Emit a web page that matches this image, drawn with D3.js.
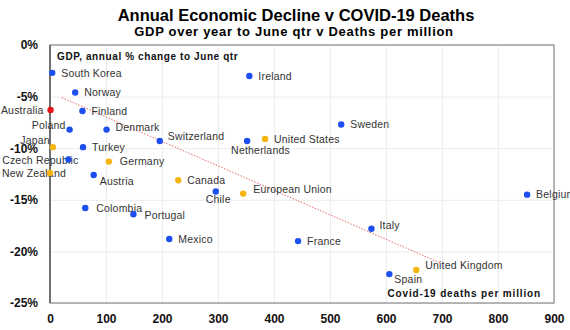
<!DOCTYPE html>
<meta charset="utf-8">
<script src="https://d3js.org/d3.v7.min.js"></script>
<style>
  body { margin: 0; background: #fff; }
  text { font-family: "Liberation Sans", Arial, sans-serif; }
</style>
<div id="chart"></div>
<script>
// deaths per million (x), GDP annual % change (y), group
var countries = ["South Korea", "Ireland", "Norway", "Australia", "Finland", "Poland", "Denmark",
  "Sweden", "Switzerland", "Netherlands", "United States", "Japan", "Turkey", "Czech Republic",
  "Germany", "New Zealand", "Austria", "Canada", "Chile", "European Union", "Belgium",
  "Colombia", "Portugal", "Italy", "Mexico", "France", "United Kingdom", "Spain"];
var deaths = [4, 356, 45, 1, 58, 35, 101, 520, 196, 352, 384, 5, 59, 33,
  105, 0, 78, 229, 296, 345, 852, 63, 149, 574, 213, 443, 654, 606];
var gdp = [-2.7, -3.0, -4.6, -6.3, -6.4, -8.2, -8.2, -7.7, -9.3, -9.3, -9.1, -9.9, -9.9, -11.1,
  -11.3, -12.4, -12.6, -13.1, -14.2, -14.4, -14.5, -15.8, -16.4, -17.8, -18.8, -19.0, -21.8, -22.2];
var group = ["b", "b", "b", "r", "b", "b", "b", "b", "b", "b", "y", "y", "b", "b",
  "y", "y", "b", "y", "b", "y", "b", "b", "b", "b", "b", "b", "y", "b"];

var xTicks = [0, 100, 200, 300, 400, 500, 600, 700, 800, 900];
var yTicks = [0, -5, -10, -15, -20, -25];

// fitted trend: two end points [deaths, gdp]
var trendLine = [[21, -5.1], [696, -21.1]];

var colours = { b: "#1c4ef0", y: "#f5b50f", r: "#e8141a" };

// label placement [dx, dy, anchor] relative to the dot
var labelPos = {
  "Australia": [-7, 0, "end"], "Japan": [-3, -7, "end"], "Poland": [-4, -4, "end"],
  "Czech Republic": [10, 1, "end"], "New Zealand": [16, 0, "end"],
  "Netherlands": [-16, 9, "start"], "Austria": [6, 6, "start"], "Chile": [-10, 8, "start"],
  "European Union": [10, -4, "start"], "Portugal": [11, 1, "start"], "Spain": [5, 5, "start"],
  "United Kingdom": [9, -5, "start"], "Italy": [8, -3, "start"], "Switzerland": [8, -5, "start"],
  "Denmark": [9, -2, "start"], "Colombia": [11, 0, "start"], "Germany": [11, 0, "start"]
};

var width = 570, height = 330;
var margin = { top: 45, right: 16, bottom: 27, left: 50 };

var svg = d3.select("#chart").append("svg")
  .attr("width", width)
  .attr("height", height);

var x = d3.scaleLinear().domain([0, 900]).range([margin.left, width - margin.right]);
var y = d3.scaleLinear().domain([-25, 0]).range([height - margin.bottom, margin.top]);

// titles
svg.append("text")
  .attr("x", 296).attr("y", 21)
  .attr("text-anchor", "middle")
  .style("font-size", "16.5px").style("font-weight", "bold")
  .text("Annual Economic Decline v COVID-19 Deaths");
svg.append("text")
  .attr("x", 294).attr("y", 36)
  .attr("text-anchor", "middle")
  .style("font-size", "13px").style("font-weight", "bold").style("letter-spacing", "0.7px")
  .text("GDP over year to June qtr v Deaths per million");

// grid
svg.append("g")
  .attr("transform", "translate(0," + y(-25) + ")")
  .call(d3.axisBottom(x).tickValues(xTicks).tickSize(-(y(-25) - y(0))).tickFormat(""))
  .call(g => g.select(".domain").remove())
  .call(g => g.selectAll("line").attr("stroke", "#ececec"));
svg.append("g")
  .attr("transform", "translate(" + x(0) + ",0)")
  .call(d3.axisLeft(y).tickValues(yTicks).tickSize(-(x(900) - x(0))).tickFormat(""))
  .call(g => g.select(".domain").remove())
  .call(g => g.selectAll("line").attr("stroke", "#ececec"));

// plot border
svg.append("rect")
  .attr("x", x(0)).attr("y", y(0))
  .attr("width", x(900) - x(0)).attr("height", y(-25) - y(0))
  .attr("fill", "none").attr("stroke", "#8a8a8a").attr("stroke-width", 1.2);
svg.append("line")
  .attr("x1", x(0)).attr("x2", x(0)).attr("y1", y(0)).attr("y2", y(-25))
  .attr("stroke", "#707070").attr("stroke-width", 2);

// tick labels
var xAxis = svg.append("g")
  .attr("transform", "translate(0," + (y(-25) + 3) + ")")
  .call(d3.axisBottom(x).tickValues(xTicks).tickSize(0).tickPadding(8).tickFormat(d3.format("d")));
xAxis.select(".domain").remove();
xAxis.selectAll("text")
  .style("font-family", "Liberation Sans, Arial, sans-serif")
  .style("font-size", "12px").style("font-weight", "bold").attr("fill", "#111");

var yAxis = svg.append("g")
  .attr("transform", "translate(" + (x(0) - 12) + ",0)")
  .call(d3.axisLeft(y).tickValues(yTicks).tickSize(0).tickPadding(0).tickFormat(d => d + "%"));
yAxis.select(".domain").remove();
yAxis.selectAll("text")
  .style("font-family", "Liberation Sans, Arial, sans-serif")
  .style("font-size", "12px").style("font-weight", "bold").attr("fill", "#111");

// trend line
svg.append("path")
  .datum(trendLine)
  .attr("d", d3.line().x(d => x(d[0])).y(d => y(d[1])))
  .attr("fill", "none")
  .attr("stroke", "#e36b6b")
  .attr("stroke-width", 1)
  .attr("stroke-dasharray", "1.5,1.5");

// in-plot axis captions
svg.append("text")
  .attr("x", 57).attr("y", 60)
  .style("font-size", "10px").style("font-weight", "bold").style("letter-spacing", "0.6px")
  .attr("fill", "#111")
  .text("GDP, annual % change to June qtr");
svg.append("text")
  .attr("x", 541).attr("y", 297)
  .attr("text-anchor", "end")
  .style("font-size", "10px").style("font-weight", "bold").style("letter-spacing", "0.85px")
  .attr("fill", "#111")
  .text("Covid-19 deaths per million");

var pts = countries.map((c, i) => ({ name: c, x: deaths[i], y: gdp[i], g: group[i] }));

// labels
svg.selectAll(".lbl")
  .data(pts)
  .enter().append("text")
  .attr("class", "lbl")
  .attr("x", d => x(d.x) + (labelPos[d.name] ? labelPos[d.name][0] : 9))
  .attr("y", d => y(d.y) + (labelPos[d.name] ? labelPos[d.name][1] : 0))
  .attr("dy", "0.35em")
  .attr("text-anchor", d => labelPos[d.name] ? labelPos[d.name][2] : "start")
  .style("font-size", "10.5px")
  .style("letter-spacing", "0.2px")
  .attr("fill", "#333")
  .text(d => d.name);

// dots
svg.selectAll(".dot")
  .data(pts)
  .enter().append("circle")
  .attr("class", "dot")
  .attr("cx", d => x(d.x))
  .attr("cy", d => y(d.y))
  .attr("r", 3.2)
  .attr("fill", d => colours[d.g]);
</script>
